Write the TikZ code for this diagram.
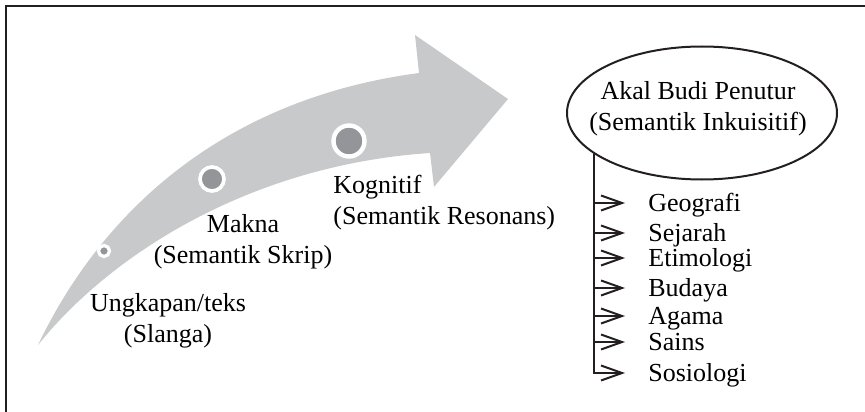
\documentclass[tikz,border=0pt]{standalone}
\usepackage{fontspec}
\setmainfont{Liberation Serif}
\usetikzlibrary{shapes.geometric,arrows.meta}
\definecolor{bandgrey}{HTML}{C8C9CB}
\definecolor{dotgrey}{HTML}{939598}
\definecolor{inkdark}{HTML}{231F20}

\begin{document}
\begin{tikzpicture}[x=1pt,y=-1pt,>={Straight Barb[length=21pt,width=15pt]},
      thick,
      dot node/.style={circle,fill=dotgrey,draw=white,inner sep=0pt},
      label node/.style={font=\fontsize{26}{31}\selectfont,text=black,inner sep=0pt},
      item node/.style={label node,anchor=west,text height=17pt,text depth=0pt},
      branch/.style={draw=inkdark,line width=2pt,->,shorten >=23pt}]
 \useasboundingbox (0,0) rectangle (865,412);
 \draw[inkdark, line width=2.5pt] (6,412) -- (6,6) -- (865,6);

 % curved arrow
 \fill[bandgrey] (38,345) .. controls (105,205) and (230,98) .. (419,73)
   -- (415,35) -- (508,99) -- (434,187) -- (430,153)
   .. controls (250,165) and (110,255) .. (38,345) -- cycle;

 \node[dot node, minimum size=11pt, line width=3.3pt] (d1) at (104,251) {};
 \node[dot node, minimum size=24pt, line width=3.7pt] (d2) at (212,179) {};
 \node[dot node, minimum size=31pt, line width=4.4pt] (d3) at (349,141) {};

 \node[label node, align=center] (ungkapan) at (168,321) {Ungkapan/teks\\(Slanga)};
 \node[label node, align=center] (makna) at (243,242) {Makna\\(Semantik Skrip)};
 \node[label node, align=left, anchor=west] (kognitif) at (333,203) {Kognitif\\(Semantik Resonans)};

 \node[draw=inkdark, line width=2pt, ellipse, inner sep=0pt,
   minimum width=270pt, minimum height=133pt] (penutur) at (702,113) {};
 \node[label node, align=center] (akal) at (698,109) {Akal Budi Penutur\\(Semantik Inkuisitif)};

 % list
 \node[item node] (geo) at (648,203) {Geografi};
 \node[item node] (sejarah) at (648,233) {Sejarah};
 \node[item node] (etimo) at (648,258) {Etimologi};
 \node[item node] (budaya) at (648,288) {Budaya};
 \node[item node] (agama) at (648,316) {Agama};
 \node[item node] (sains) at (648,342) {Sains};
 \node[item node] (sosio) at (648,373) {Sosiologi};

 \draw[branch] (penutur.201) |- (sosio.west);
 \foreach \n in {geo,sejarah,etimo,budaya,agama,sains}
   \draw[branch] (penutur.201 |- \n.west) -- (\n.west);
\end{tikzpicture}
\end{document}
